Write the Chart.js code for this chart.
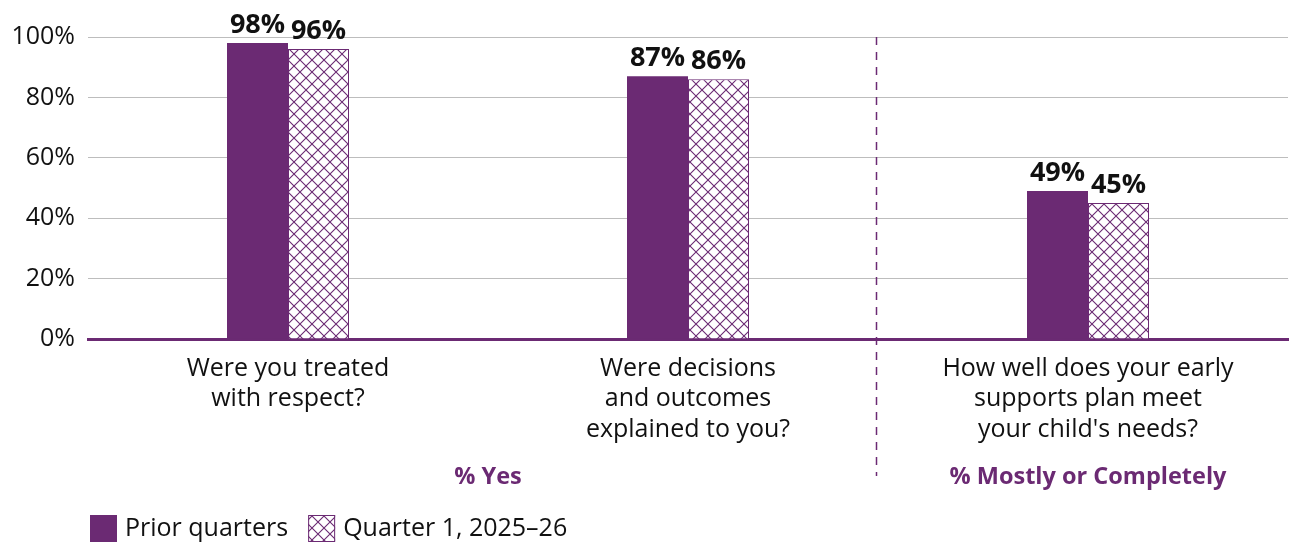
<!DOCTYPE html>
<html>
<head>
<meta charset="utf-8">
<script src="https://cdn.jsdelivr.net/npm/chart.js@4.4.0/dist/chart.umd.min.js"></script>
<style>
  html, body { margin: 0; padding: 0; background: #fff; }
</style>
</head>
<body>
<canvas id="chart" width="1292" height="545"></canvas>
<script>
var categories = [
    ["Were you treated", "with respect?"],
    ["Were decisions", "and outcomes", "explained to you?"],
    ["How well does your early", "supports plan meet", "your child's needs?"]
];
var priorValues = [98, 87, 49];
var quarterValues = [96, 86, 45];
var seriesNames = ["Prior quarters", "Quarter 1, 2025\u201326"];
var yTicks = [0, 20, 40, 60, 80, 100];
var sectionLabels = ["% Yes", "% Mostly or Completely"];

var purple = "#6b2a73";
var fontName = "'Open Sans', sans-serif";

function makeHatch(){
    var c = document.createElement("canvas");
    c.width = 12; c.height = 12;
    var g = c.getContext("2d");
    g.fillStyle = "#fff";
    g.fillRect(0, 0, 12, 12);
    g.strokeStyle = purple;
    g.lineWidth = 1.1;
    g.beginPath();
    g.moveTo(0, 0); g.lineTo(12, 12);
    g.moveTo(12, 0); g.lineTo(0, 12);
    g.stroke();
    return g.createPattern(c, "repeat");
}
var hatch = makeHatch();

// labels, divider, section captions, legend
var extras = {
    id: "extras",
    afterDatasetsDraw: function(chart){
        var ctx = chart.ctx;
        var xs = chart.scales.x;
        ctx.save();
        ctx.fillStyle = "#111";
        ctx.font = "bold 27px " + fontName;
        ctx.textAlign = "center";
        ctx.textBaseline = "bottom";
        chart.data.datasets.forEach(function(ds, i){
            chart.getDatasetMeta(i).data.forEach(function(bar, j){
                ctx.fillText(ds.data[j] + "%", bar.x, bar.y - 4);
            });
        });

        // dashed divider
        var dx = Math.round(xs.getPixelForValue(1.47)) + 0.5;
        ctx.strokeStyle = purple;
        ctx.lineWidth = 1.5;
        ctx.setLineDash([8, 7]);
        ctx.beginPath();
        ctx.moveTo(dx, chart.chartArea.top);
        ctx.lineTo(dx, 476);
        ctx.stroke();
        ctx.setLineDash([]);

        // section captions
        ctx.fillStyle = purple;
        ctx.font = "bold 23.5px " + fontName;
        ctx.textBaseline = "middle";
        ctx.fillText(sectionLabels[0], xs.getPixelForValue(0.5), 477);
        ctx.fillText(sectionLabels[1], xs.getPixelForValue(2), 477);

        // legend
        ctx.textAlign = "left";
        ctx.font = "25px " + fontName;
        var lx = 90;
        chart.data.datasets.forEach(function(ds){
            ctx.fillStyle = ds.backgroundColor;
            ctx.fillRect(lx, 515, 27, 27);
            ctx.strokeStyle = purple;
            ctx.lineWidth = 1;
            ctx.strokeRect(lx + 0.5, 515.5, 26, 26);
            ctx.fillStyle = "#111";
            ctx.fillText(ds.label, lx + 35, 529);
            lx += 35 + ctx.measureText(ds.label).width + 20;
        });
        ctx.restore();
    }
};

new Chart(document.getElementById("chart"), {
    type: "bar",
    data: {
        labels: categories,
        datasets: [{
            label: seriesNames[0],
            data: priorValues,
            backgroundColor: purple,
            borderWidth: 0
        }, {
            label: seriesNames[1],
            data: quarterValues,
            backgroundColor: hatch,
            borderColor: purple,
            borderWidth: 1
        }]
    },
    options: {
        responsive: false,
        animation: false,
        devicePixelRatio: 1,
        layout: { padding: { top: 37, right: 4, left: 0, bottom: 0 } },
        plugins: {
            legend: { display: false },
            tooltip: { enabled: false }
        },
        datasets: {
            bar: { categoryPercentage: 0.305, barPercentage: 1 }
        },
        scales: {
            x: {
                grid: { display: false },
                border: { display: true, color: purple, width: 3 },
                ticks: {
                    color: "#111",
                    font: { family: fontName, size: 25, lineHeight: 1.23 },
                    padding: 6,
                    maxRotation: 0,
                    autoSkip: false
                },
                afterFit: function(s){ s.height = 206; }
            },
            y: {
                min: 0,
                max: 100,
                afterBuildTicks: function(s){
                    s.ticks = yTicks.map(function(v){ return { value: v }; });
                },
                grid: { color: "#bdbdbd", lineWidth: 1, drawTicks: false },
                border: { display: false },
                ticks: {
                    color: "#111",
                    font: { family: fontName, size: 25 },
                    padding: 13,
                    callback: function(v){ return v + "%"; }
                },
                afterFit: function(s){ s.width = 88; }
            }
        }
    },
    plugins: [extras]
});
</script>
</body>
</html>
